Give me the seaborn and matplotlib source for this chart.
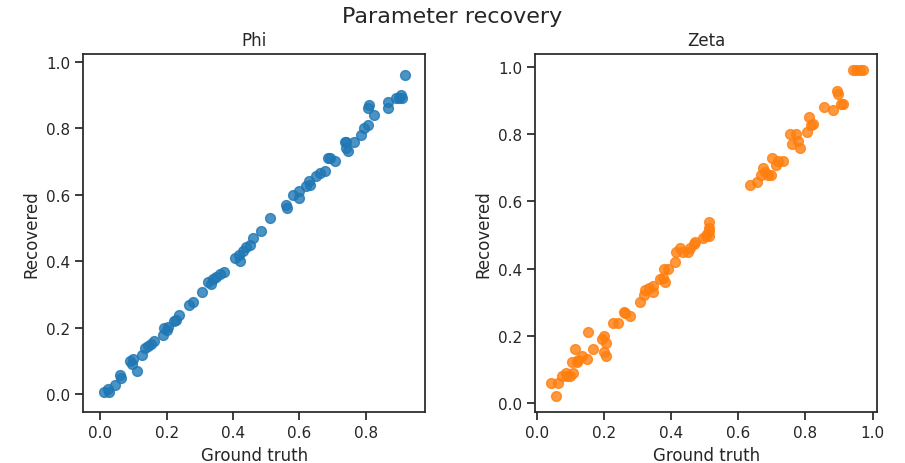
import numpy as np
import pandas as pd
import matplotlib
matplotlib.use("Agg")
import matplotlib.pyplot as plt
import seaborn as sns

# ---- data ----
phi_gt = [0.010, 0.022, 0.028, 0.045, 0.060, 0.062, 0.090, 0.095, 0.100, 0.112,
          0.125, 0.135, 0.145, 0.152, 0.162, 0.190, 0.192, 0.202, 0.205, 0.222,
          0.228, 0.236, 0.268, 0.280, 0.308, 0.325, 0.335, 0.340, 0.350, 0.360,
          0.372, 0.405, 0.418, 0.420, 0.430, 0.440, 0.452, 0.460, 0.485, 0.512,
          0.560, 0.562, 0.580, 0.598, 0.600, 0.619, 0.629, 0.633, 0.650, 0.663,
          0.676, 0.686, 0.693, 0.706, 0.736, 0.740, 0.740, 0.746, 0.763, 0.786,
          0.793, 0.806, 0.806, 0.810, 0.826, 0.866, 0.866, 0.890, 0.899, 0.906,
          0.909, 0.919]
phi_rec = [0.007, 0.015, 0.007, 0.029, 0.059, 0.049, 0.099, 0.092, 0.107, 0.069,
           0.119, 0.139, 0.145, 0.152, 0.159, 0.179, 0.199, 0.192, 0.202, 0.219,
           0.222, 0.239, 0.269, 0.279, 0.309, 0.337, 0.332, 0.347, 0.352, 0.362,
           0.369, 0.410, 0.420, 0.400, 0.432, 0.443, 0.450, 0.470, 0.490, 0.530,
           0.570, 0.560, 0.600, 0.610, 0.590, 0.626, 0.640, 0.630, 0.656, 0.666,
           0.670, 0.710, 0.710, 0.700, 0.760, 0.760, 0.740, 0.730, 0.760, 0.780,
           0.800, 0.810, 0.860, 0.870, 0.840, 0.880, 0.860, 0.890, 0.890, 0.900,
           0.890, 0.960]

zeta_gt = [0.042, 0.059, 0.063, 0.076, 0.086, 0.091, 0.099, 0.106, 0.109, 0.113,
           0.119, 0.123, 0.136, 0.149, 0.152, 0.168, 0.195, 0.200, 0.202, 0.205,
           0.205, 0.228, 0.242, 0.259, 0.264, 0.277, 0.307, 0.319, 0.324, 0.334,
           0.347, 0.347, 0.368, 0.376, 0.383, 0.380, 0.390, 0.413, 0.416, 0.426,
           0.437, 0.452, 0.457, 0.467, 0.472, 0.495, 0.505, 0.512, 0.512,
           0.507, 0.512, 0.512,
           0.636, 0.657, 0.667, 0.675, 0.680, 0.690, 0.697, 0.700, 0.713, 0.717, 0.734,
           0.754, 0.759, 0.772, 0.779, 0.784, 0.806, 0.812, 0.816, 0.824,
           0.855, 0.883, 0.893, 0.898, 0.905, 0.911, 0.943, 0.952, 0.962, 0.972]
zeta_rec = [0.060, 0.020, 0.060, 0.080, 0.089, 0.081, 0.081, 0.121, 0.089, 0.161,
            0.121, 0.129, 0.141, 0.131, 0.210, 0.161, 0.189, 0.199, 0.151, 0.139,
            0.179, 0.238, 0.238, 0.270, 0.268, 0.258, 0.300, 0.320, 0.337, 0.342,
            0.330, 0.349, 0.369, 0.371, 0.360, 0.400, 0.400, 0.419, 0.449, 0.461,
            0.449, 0.449, 0.461, 0.474, 0.480, 0.490, 0.498, 0.498, 0.513,
            0.503, 0.520, 0.540,
            0.649, 0.659, 0.679, 0.699, 0.689, 0.679, 0.679, 0.729, 0.709, 0.719, 0.719,
            0.801, 0.772, 0.801, 0.781, 0.759, 0.808, 0.851, 0.828, 0.831,
            0.881, 0.871, 0.930, 0.920, 0.891, 0.891, 0.990, 0.990, 0.990, 0.990]

panel_titles = ["Phi", "Zeta"]
suptitle = "Parameter recovery"
xlabel = "Ground truth"
ylabel = "Recovered"

phi_df = pd.DataFrame({"gt": phi_gt, "rec": phi_rec})
zeta_df = pd.DataFrame({"gt": zeta_gt, "rec": zeta_rec})

sns.set_style("ticks")
sns.set_context("notebook")

fig, axes = plt.subplots(1, 2, figsize=(9.05, 4.64), dpi=100)
fig.subplots_adjust(left=0.092, right=0.9694, bottom=0.1093, top=0.8821, wspace=0.3216)

sns.regplot(data=phi_df, x="gt", y="rec", fit_reg=False, ax=axes[0],
            color="#1f77b4", scatter_kws={"s": 50})
sns.regplot(data=zeta_df, x="gt", y="rec", fit_reg=False, ax=axes[1],
            color="#ff7f0e", scatter_kws={"s": 50})

axes[0].set_xlim(-0.051, 0.979)
axes[0].set_ylim(-0.054, 1.024)
axes[1].set_xlim(-0.004, 1.014)
axes[1].set_ylim(-0.028, 1.040)

for ax, t in zip(axes, panel_titles):
    ax.set_title(t)
    ax.set_xlabel(xlabel)
    ax.set_ylabel(ylabel)

fig.suptitle(suptitle, fontsize=16, y=0.985)

fig.savefig("out.png", dpi=100)
